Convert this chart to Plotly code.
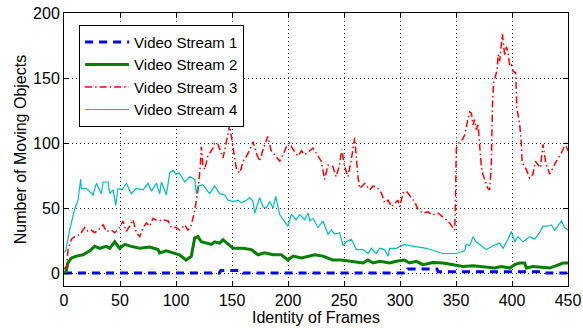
import plotly.graph_objects as go

# ---- data ----
frames_s1 = [0, 139, 140, 159, 160, 306, 307, 333, 334, 425, 426, 450]
counts_s1 = [0, 0, 2, 2, 0, 0, 3, 3, 1, 1, 0, 0]

frames_s2 = [0, 1.5, 3.6, 6.6, 11, 17, 23, 27.4, 31.9, 37.8, 40.8, 45.3, 49.7, 54.2, 60, 67.6, 76.5, 84,
             85.4, 91.4, 97.3, 103, 109, 113.7, 116.7, 119.6, 122.6, 127, 131.6, 134.5, 139, 142, 146.5,
             151, 160, 167.3, 173.2, 179, 186.6, 194, 200, 204.5, 212, 218, 223.8, 231.2, 240, 247.6,
             258, 267, 271.4, 276, 282, 290.8, 296.7, 304, 308.6, 314.5, 320.5, 329.4, 338.4, 347.3,
             356.3, 365.2, 374, 384.5, 390.5, 398, 402.4, 406.8, 411.3, 412.8, 418.7, 427.7, 433.7,
             439.6, 445.6, 450]
counts_s2 = [0, 0, 8, 11.5, 13, 14, 17, 20.5, 19, 20.5, 19, 24, 19, 22, 20.5, 19, 20, 18,
             15.5, 17, 15.5, 14, 10, 13, 27, 28, 24, 23, 22, 24, 23, 25.5, 22,
             19, 19, 18, 14, 15.5, 14, 14, 10, 13, 11.5, 13, 14, 13, 10, 10,
             9, 7.7, 10, 7.7, 9, 7.7, 9, 10, 7.7, 9, 6.4, 8, 7.7, 6.4,
             5, 5.6, 5, 3.8, 5, 3.8, 6.4, 7.7, 7.7, 3.8, 5, 4.6, 3.8,
             5.6, 7.7, 7.7]

frames_s3 = [0, 2.3, 3.6, 6.6, 9.5, 14, 18.5, 21.5, 24.4, 27.4, 30.4, 34.9, 37.8, 42.3, 45.3, 49.7,
             52.7, 55.7, 58.6, 61.6, 64.6, 67.6, 70.6, 73.5, 76.5, 79.5, 84, 88.4, 93, 95.8, 100,
             103.3, 107.8, 110.7, 113.7, 116.7, 119.7, 121.7, 122.6, 124, 125.6, 128.5, 133, 134.5,
             137.5, 139, 142, 145, 148, 149.4, 151, 154, 157, 160, 163, 166, 168.8, 171.8, 174.7,
             177.7, 182, 185, 188, 192.6, 195.5, 198.5, 201.5, 204.5, 209, 212, 214.9, 219.3, 222.3,
             225.3, 229.7, 232.7, 235.7, 240, 243, 246, 248, 250.5, 253.5, 256.5, 259.5, 262.5, 264,
             268.5, 273, 276, 280.4, 283.4, 286.3, 289.3, 292.3, 298.2, 299.7, 302.7, 305.7, 310.1,
             313, 316, 320.5, 325, 328, 332.4, 334, 341.3, 344.3, 348.8, 349.4, 350.3, 353.2, 356,
             357.7, 360.6, 362.2, 363.7, 365.2, 366.7, 368.2, 369.6, 371, 372.6, 374, 375.6, 377,
             378.5, 380, 381.5, 382.5, 383.5, 386.7, 387.6, 389, 390.5, 391.4, 392, 393.5, 395,
             396.4, 398, 399.4, 401, 403.3, 404.3, 406.8, 408.3, 409, 411.3, 412.8, 415.8, 418.7,
             420.8, 423.2, 425.3, 427.7, 430, 433.7, 436.6, 439.6, 442.6, 445.6, 447, 450]
counts_s3 = [3, 5, 18, 26, 28, 29.5, 35, 32, 33, 31, 33, 37, 32, 33, 31, 35,
             40, 32, 36, 41, 31, 28, 35, 38.5, 36, 42, 40, 41, 40, 35, 35,
             33, 37, 33, 37, 48, 64, 82, 97, 83, 79.5, 90, 96, 100,
             99, 95, 88.5, 101, 114, 105, 95, 79.5, 77, 86, 90, 95, 101, 92, 86,
             95, 105, 94, 91, 86, 91, 97, 100, 95, 90, 94, 91, 94, 96,
             92, 86, 72, 83, 82, 74, 83, 95, 82, 74, 87, 104, 74, 65,
             69, 64, 67, 65, 61.5, 54, 56, 51, 56, 51, 61.5, 63, 58,
             55, 49, 46, 47, 45, 45, 46, 41, 38.5, 33, 49, 96, 101, 103,
             106, 118, 124, 123, 114, 118, 110, 115, 100, 82, 76, 72, 69,
             65, 64, 82, 127, 146, 156, 168, 163, 177, 184, 179.5, 167, 174,
             170, 159, 160, 155, 154, 127, 115, 100, 85, 82, 79.5, 73, 76,
             86, 83, 81, 99, 85, 76, 81, 86, 90, 95, 100, 94]

frames_s4 = [0, 1.5, 5, 9.5, 12.5, 14.9, 15.5, 20, 25.9, 28.9, 33.4, 34.9, 39.3, 40.8, 43.8, 46.2,
             48.2, 52, 55.7, 60, 64.6, 70.6, 75, 78, 82.5, 85.4, 87, 91.4, 94.4, 97.3, 100, 103,
             107.8, 112.2, 116.7, 118.2, 119.6, 124, 130, 134.5, 139, 143.5, 146.5, 151, 155.4,
             158.4, 162.8, 165.8, 168.8, 170.3, 174.7, 177.7, 180.7, 183.6, 186.6, 189, 192.6,
             195.5, 200, 203, 207.5, 210.4, 214.9, 217.9, 219.4, 222.3, 226.8, 231.2, 235.7, 238.7,
             241.6, 246, 249.1, 252, 256.6, 261, 267, 271.4, 274.4, 278.8, 281.8, 286.3, 289.3,
             290.8, 296.7, 301, 304, 308.6, 323.5, 338.4, 350.3, 357.7, 359.2, 362.2, 365.2, 368,
             372.6, 377, 383, 389, 392, 396.4, 399.4, 402.4, 405.4, 409.8, 415.8, 420.3, 424.7,
             427.7, 432.2, 435.2, 438.2, 441.2, 444.2, 447, 450]
counts_s4 = [16, 17, 33, 49, 56, 72, 65, 65, 60, 69, 61, 70, 70, 61, 64, 52,
             65, 64, 69, 61, 65, 64, 69, 63, 69, 61, 70, 60, 77, 79, 76, 77,
             70, 74, 72, 61, 67, 68, 61, 67, 61, 60, 56, 55, 56,
             54, 56, 58, 55, 46, 58, 51, 50, 55, 50, 59, 45,
             41, 36, 45, 41, 45, 41, 46, 40, 42, 35, 40, 30, 33,
             30, 31, 21, 24, 26, 18, 18, 15, 19, 15, 19, 18, 13,
             19, 19, 21, 22, 21, 19, 15, 15, 17, 22, 21, 28, 24,
             21, 18, 21, 23, 19, 26, 32, 24, 28, 24, 28, 26, 31,
             36, 36, 37, 33, 37, 40, 35, 33]

series_names = ["Video Stream 1", "Video Stream 2", "Video Stream 3", "Video Stream 4"]
x_ticks = [0, 50, 100, 150, 200, 250, 300, 350, 400, 450]
y_ticks = [0, 50, 100, 150, 200]

for a, b in [(frames_s1, counts_s1), (frames_s2, counts_s2), (frames_s3, counts_s3), (frames_s4, counts_s4)]:
    assert len(a) == len(b), (len(a), len(b))

FONT = "Liberation Sans, Arial, sans-serif"

fig = go.Figure()
fig.add_trace(go.Scatter(x=frames_s1, y=counts_s1, mode="lines", name=series_names[0],
                         line=dict(color="#0000FF", width=3, dash="8px,6px")))
fig.add_trace(go.Scatter(x=frames_s2, y=counts_s2, mode="lines", name=series_names[1],
                         line=dict(color="#008000", width=3)))
fig.add_trace(go.Scatter(x=frames_s3, y=counts_s3, mode="lines", name=series_names[2],
                         line=dict(color="#FF0000", width=1.5, dash="7px,3px,1.5px,3px")))
fig.add_trace(go.Scatter(x=frames_s4, y=counts_s4, mode="lines", name=series_names[3],
                         line=dict(color="#00BFBF", width=1.2)))

axis_common = dict(showline=True, linecolor="black", linewidth=1, mirror="ticks",
                   ticks="inside", ticklen=5, tickcolor="black", showgrid=True,
                   gridcolor="#333333", griddash="1px,3px", gridwidth=1, zeroline=False,
                   automargin=False,
                   tickfont=dict(family=FONT, size=16, color="black"))

fig.update_xaxes(range=[0, 450], tickvals=x_ticks,
                 title=dict(text="Identity of Frames", font=dict(family=FONT, size=16, color="black"), standoff=2),
                 **axis_common)
fig.update_yaxes(range=[-10, 200], tickvals=y_ticks,
                 title=dict(text="Number of Moving Objects", font=dict(family=FONT, size=16, color="black"), standoff=2),
                 **axis_common)

fig.update_layout(
    width=583, height=328,
    margin=dict(l=64, r=15, t=13, b=42, autoexpand=False),
    paper_bgcolor="white", plot_bgcolor="white",
    font=dict(family=FONT, size=16, color="black"),
    legend=dict(x=0.03, y=0.957, xanchor="left", yanchor="top",
                bgcolor="white", bordercolor="black", borderwidth=1,
                font=dict(family=FONT, size=15, color="black"),
                tracegroupgap=0, itemwidth=44),
    showlegend=True,
)

fig.write_html("out.html", config={"displayModeBar": False},
               post_script="document.body.style.margin='0';")
